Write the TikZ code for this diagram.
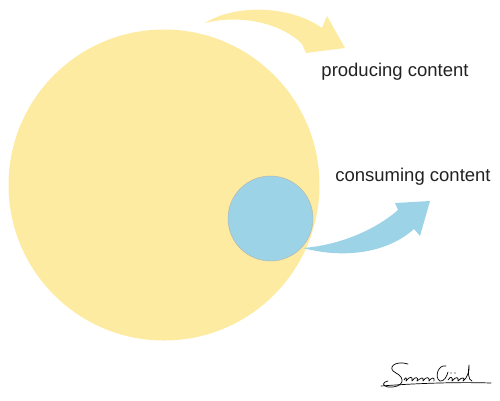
\documentclass[tikz,border=0pt]{standalone}
\usepackage{fontspec}
\setmainfont{Liberation Sans}
\definecolor{sunyellow}{HTML}{FDEBA1}
\definecolor{skyblue}{HTML}{9DD3E6}
\definecolor{txtgray}{HTML}{222222}
\begin{document}
\begin{tikzpicture}[x=1pt,y=-1pt,
  label/.style={text=txtgray,font=\fontsize{18.5}{20}\selectfont,inner sep=0pt,anchor=base},
  sig/.style={draw=black,line width=0.7pt,line cap=round,line join=round}]
\useasboundingbox (0,0) rectangle (500,400);
% yellow curved arrow
\fill[sunyellow] (205,23) .. controls (235,4) and (290,5) .. (322,28) -- (327,16) -- (345,48) -- (306,53) -- (302,44) .. controls (285,26) and (245,13) .. (205,23) -- cycle;
% big circle
\node[circle,fill=sunyellow,minimum size=311pt,inner sep=0pt] (big) at (164,185) {};
% blue curved arrow
\fill[skyblue] (303,248) .. controls (340,245) and (375,230) .. (398,210) -- (395,203) -- (430,201) -- (420,236) -- (414,229) .. controls (385,255) and (340,258) .. (303,248) -- cycle;
% small circle
\node[circle,fill=skyblue,draw=gray!60,line width=0.4pt,minimum size=85pt,inner sep=0pt] (small) at (270.5,218.5) {};
% labels
\node[label] (prod) at (395,76) {producing content};
\node[label] (cons) at (413,181) {consuming content};
% signature
\draw[sig] (408,364) .. controls (395,360) and (386,368) .. (396,373) .. controls (406,378) and (404,388) .. (388,387) .. controls (382,386) and (382,382) .. (388,381);
\draw[sig] (404,380) .. controls (406,376) and (407,378) .. (406,381) .. controls (410,376) and (413,376) .. (412,381) .. controls (415,376) and (419,377) .. (417,381) .. controls (421,378) and (424,376) .. (423,381) .. controls (426,376) and (430,377) .. (429,381) .. controls (432,377) and (435,377) .. (434,381);
\draw[sig] (446,366) .. controls (438,364) and (434,378) .. (440,381) .. controls (444,382) and (447,376) .. (448,372);
\draw[sig] (448,380) .. controls (451,375) and (453,378) .. (452,381) .. controls (456,376) and (459,377) .. (458,381) .. controls (462,376) and (466,378) .. (463,381) .. controls (467,379) and (470,370) .. (469,365) .. controls (468,372) and (468,380) .. (472,381);
\draw[sig] (381,386) .. controls (420,383) and (460,382) .. (491,383);
\fill (451,373) circle (0.6pt) (455,373) circle (0.6pt);
\end{tikzpicture}
\end{document}
